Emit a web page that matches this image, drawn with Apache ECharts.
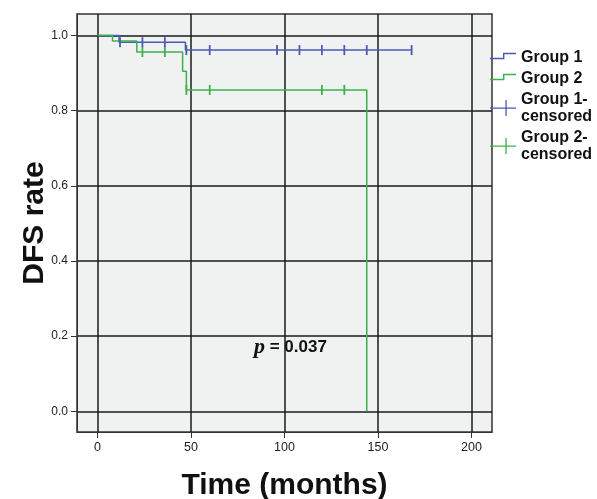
<!DOCTYPE html>
<html>
<head>
<meta charset="utf-8">
<script src="https://cdn.jsdelivr.net/npm/echarts@6/dist/echarts.min.js"></script>
<style>
html, body { margin: 0; padding: 0; background: #fff; }
#main { width: 597px; height: 499px; }
</style>
</head>
<body>
<div id="main"></div>
<script>
// Kaplan-Meier steps: [time (months), DFS rate]
var group1Steps = [[0, 1.0], [11.5, 0.982], [47, 0.961], [168, 0.961]];
var group2Steps = [[0, 1.0], [8, 0.985], [21, 0.956], [45.5, 0.905], [47.5, 0.855], [144, 0]];
// censored observations
var group1Censored = [[12, 0.982], [24, 0.982], [36, 0.982], [47.5, 0.961], [60, 0.961], [96, 0.961],
    [108, 0.961], [120, 0.961], [132, 0.961], [144, 0.961], [168, 0.961]];
var group2Censored = [[24, 0.956], [36, 0.956], [47.5, 0.855], [60, 0.855], [120, 0.855], [132, 0.855]];
var xTicks = [0, 50, 100, 150, 200];
var yTicks = [0, 0.2, 0.4, 0.6, 0.8, 1.0];
var legendNames = ['Group 1', 'Group 2', 'Group 1-censored', 'Group 2-censored'];

var blue = '#4a5bb2';
var green = '#3cb24c';

// legend icons (tiny corner dots keep the bounding box at 26x16)
var corners = ' M0,0 L0.02,0 L0,0.02 Z M26,16 L25.98,16 L26,15.98 Z';
var stepIcon = 'path://M0,8.3 L13,8.3 L13,3.3 L26,3.3 L26,4.7 L14.4,4.7 L14.4,9.7 L0,9.7 Z' + corners;
var plusIcon = 'path://M0,7.4 L26,7.4 L26,8.7 L0,8.7 Z M15.4,0 L16.7,0 L16.7,16 L15.4,16 Z';

var tickMark = 'path://M0,0 L1,0 L1,10 L0,10 Z';

var chart = echarts.init(document.getElementById('main'));

var option = {
    backgroundColor: '#fff',
    animation: false,
    grid: {
        left: 77, top: 14, right: 105, bottom: 67,
        outerBoundsMode: 'none',
        show: true,
        backgroundColor: '#f0f1f1',
        borderColor: '#333',
        borderWidth: 1.5
    },
    legend: {
        orient: 'vertical',
        left: 490,
        top: 49,
        padding: 0,
        itemWidth: 26,
        itemHeight: 16,
        itemGap: 4,
        selectedMode: false,
        textStyle: {
            fontFamily: 'Liberation Sans, Arial, sans-serif',
            fontWeight: 'bold',
            fontSize: 16,
            lineHeight: 17,
            color: '#111'
        },
        formatter: function (name) {
            return name.replace('-', '-\n');
        },
        data: [
            { name: legendNames[0], icon: stepIcon, itemStyle: { color: blue, borderWidth: 0 } },
            { name: legendNames[1], icon: stepIcon, itemStyle: { color: green, borderWidth: 0 } },
            { name: legendNames[2], icon: plusIcon, itemStyle: { color: blue, borderWidth: 0 } },
            { name: legendNames[3], icon: plusIcon, itemStyle: { color: green, borderWidth: 0 } }
        ]
    },
    graphic: [{
        type: 'text',
        left: 254,
        top: 336,
        style: {
            text: '{p|p} = 0.037',
            fontFamily: 'Liberation Sans, Arial, sans-serif',
            fontWeight: 'bold',
            fontSize: 17,
            fill: '#111',
            rich: {
                p: {
                    fontFamily: 'Liberation Serif, Times New Roman, serif',
                    fontStyle: 'italic',
                    fontWeight: 'bold',
                    fontSize: 22,
                    fill: '#111'
                }
            }
        }
    }],
    xAxis: {
        type: 'value',
        min: -11,
        max: 211,
        name: 'Time (months)',
        nameLocation: 'middle',
        nameGap: 39,
        nameTextStyle: {
            fontFamily: 'Liberation Sans, Arial, sans-serif',
            fontWeight: 'bold',
            fontSize: 30,
            color: '#111'
        },
        axisLine: { show: true, onZero: false, lineStyle: { color: '#333', width: 1 } },
        axisTick: { show: true, length: 6, customValues: xTicks, lineStyle: { color: '#333', width: 1 } },
        axisLabel: {
            customValues: xTicks,
            margin: 9,
            fontFamily: 'Liberation Sans, Arial, sans-serif',
            fontSize: 12.5,
            color: '#222'
        },
        splitLine: { show: true, lineStyle: { color: '#1a1a1a', width: 1.5 } }
    },
    yAxis: {
        type: 'value',
        min: -0.055,
        max: 1.057,
        name: 'DFS rate',
        nameLocation: 'middle',
        nameGap: 27,
        nameMoveOverlap: false,
        nameTextStyle: {
            fontFamily: 'Liberation Sans, Arial, sans-serif',
            fontWeight: 'bold',
            fontSize: 30,
            color: '#111'
        },
        axisLine: { show: true, onZero: false, lineStyle: { color: '#333', width: 1 } },
        axisTick: { show: true, length: 6, customValues: yTicks, lineStyle: { color: '#333', width: 1 } },
        axisLabel: {
            customValues: yTicks,
            margin: 9,
            fontFamily: 'Liberation Sans, Arial, sans-serif',
            fontSize: 12,
            color: '#222',
            formatter: function (v) { return v.toFixed(1); }
        },
        splitLine: { show: true, lineStyle: { color: '#1a1a1a', width: 1.5 } }
    },
    series: [
        {
            name: legendNames[0],
            type: 'line',
            step: 'end',
            data: group1Steps,
            showSymbol: false,
            color: blue,
            lineStyle: { color: blue, width: 1.5 },
            z: 3
        },
        {
            name: legendNames[1],
            type: 'line',
            step: 'end',
            data: group2Steps,
            showSymbol: false,
            color: green,
            lineStyle: { color: green, width: 1.5 },
            z: 3
        },
        {
            name: legendNames[2],
            type: 'scatter',
            data: group1Censored,
            symbol: tickMark,
            symbolSize: [1.8, 10],
            color: blue,
            itemStyle: { color: blue, opacity: 1 },
            z: 4
        },
        {
            name: legendNames[3],
            type: 'scatter',
            data: group2Censored,
            symbol: tickMark,
            symbolSize: [1.8, 10],
            color: green,
            itemStyle: { color: green, opacity: 1 },
            z: 4
        }
    ]
};

chart.setOption(option);
</script>
</body>
</html>
